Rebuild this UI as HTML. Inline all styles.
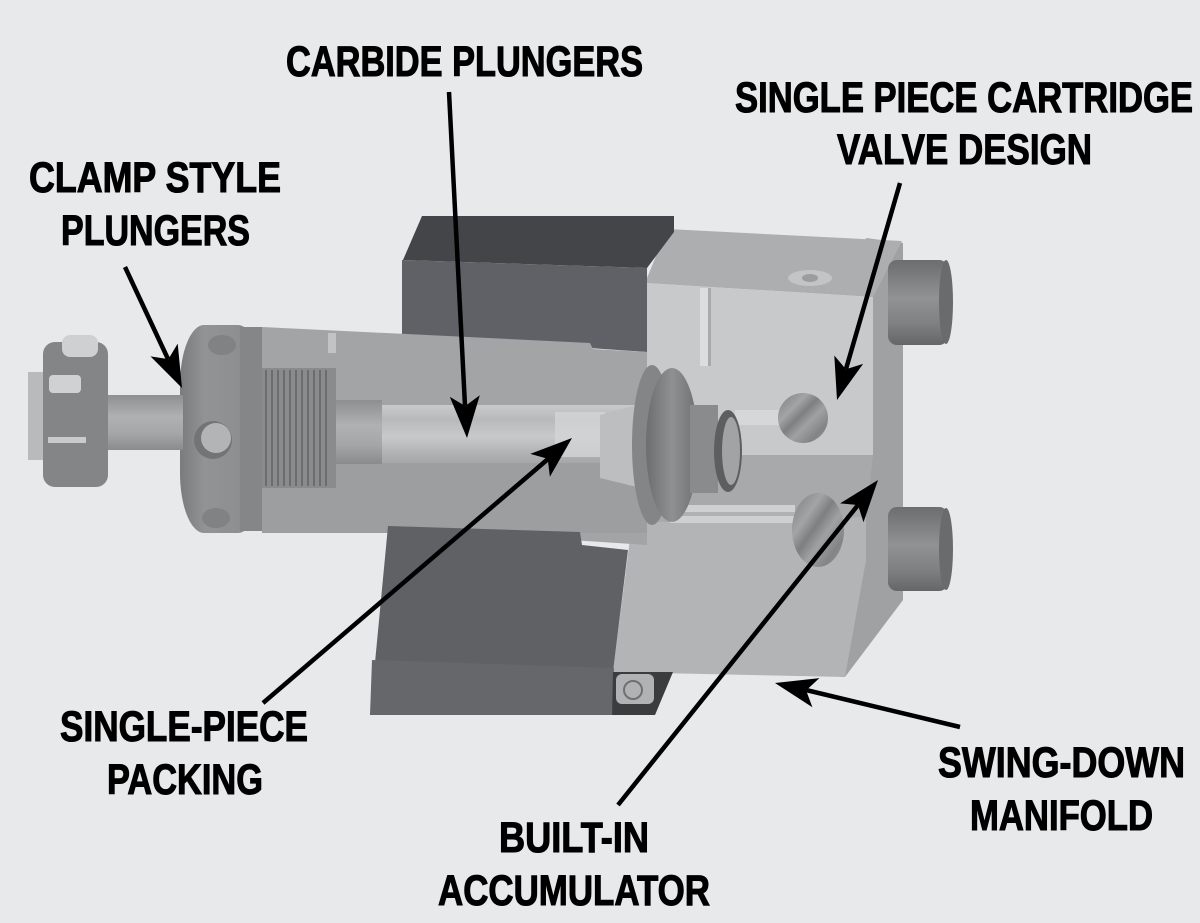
<!DOCTYPE html>
<html><head><meta charset="utf-8"><style>
html,body{margin:0;padding:0;background:#e8e9eb;}
svg{display:block;}
text{font-family:"Liberation Sans",Arial,sans-serif;font-weight:bold;font-size:43px;fill:#000;stroke:#000;stroke-width:1.1px;}
</style></head><body>
<svg width="1200" height="923" viewBox="0 0 1200 923" xmlns="http://www.w3.org/2000/svg">
<defs>
<linearGradient id="chan" x1="0" y1="0" x2="0" y2="1">
<stop offset="0" stop-color="#c9cacc"/><stop offset="0.25" stop-color="#b8b9bb"/><stop offset="0.55" stop-color="#c8c9cb"/><stop offset="0.8" stop-color="#b3b4b6"/><stop offset="1" stop-color="#a6a7a9"/>
</linearGradient>
<linearGradient id="shaft" x1="0" y1="0" x2="0" y2="1">
<stop offset="0" stop-color="#8e8f91"/><stop offset="0.4" stop-color="#b0b1b3"/><stop offset="0.7" stop-color="#a5a6a8"/><stop offset="1" stop-color="#8a8b8d"/>
</linearGradient>
<linearGradient id="flange" x1="0" y1="0" x2="1" y2="0">
<stop offset="0" stop-color="#7a7b7d"/><stop offset="0.3" stop-color="#929395"/><stop offset="0.7" stop-color="#8e8f91"/><stop offset="1" stop-color="#7e7f81"/>
</linearGradient>
<linearGradient id="bolt" x1="0" y1="0" x2="0" y2="1">
<stop offset="0" stop-color="#6c6d6f"/><stop offset="0.45" stop-color="#919294"/><stop offset="0.75" stop-color="#7f8082"/><stop offset="1" stop-color="#656668"/>
</linearGradient>
<linearGradient id="disc" x1="0" y1="0" x2="1" y2="0">
<stop offset="0" stop-color="#6d6e70"/><stop offset="0.5" stop-color="#8f9092"/><stop offset="1" stop-color="#6f7072"/>
</linearGradient>
<linearGradient id="hole" x1="0" y1="0" x2="1" y2="1">
<stop offset="0" stop-color="#7c7d7f"/><stop offset="0.3" stop-color="#a3a4a6"/><stop offset="0.45" stop-color="#7e7f81"/><stop offset="0.6" stop-color="#a0a1a3"/><stop offset="0.8" stop-color="#838486"/><stop offset="1" stop-color="#96979a"/>
</linearGradient>
</defs>
<rect width="1200" height="923" fill="#e8e9eb"/>

<!-- manifold side face -->
<polygon points="866,238 903,243 903,600 845,677 840,677 866,560" fill="#a0a1a3"/>
<!-- manifold top face -->
<polygon points="667,229 902,241 873,297 645,283" fill="#adaeb0"/>
<ellipse cx="810" cy="278" rx="22" ry="8" fill="#c3c4c6"/>
<ellipse cx="810" cy="278" rx="8" ry="4" fill="#9c9d9f"/>
<!-- manifold upper front face -->
<polygon points="645,283 873,297 873,455 645,455" fill="#c8c9cb"/>
<rect x="700" y="288" width="10" height="78" fill="#dcdddf"/>
<rect x="708" y="288" width="3" height="78" fill="#a9aaac"/>
<!-- middle band -->
<polygon points="640,455 873,455 866,518 632,523" fill="#a8a9ab"/>
<!-- lower manifold face -->
<polygon points="632,523 866,517 866,560 845,677 613,672" fill="#b3b4b6"/>
<rect x="670" y="505" width="125" height="18" fill="#cfd0d2"/>
<rect x="670" y="512" width="125" height="4" fill="#b0b1b3"/>
<rect x="735" y="410" width="60" height="15" fill="#d6d7d9"/>

<!-- holes -->
<circle cx="803" cy="418" r="25" fill="url(#hole)"/>
<ellipse cx="818" cy="530" rx="26" ry="37" fill="url(#hole)"/>

<!-- dark block top -->
<polygon points="403,260 422,216 674,216 674,232 647,268" fill="#444548"/>
<!-- dark block front -->
<polygon points="402,260 647,268 647,352 402,335" fill="#606166"/>

<!-- main body -->
<polygon points="262,327 590,343 593,349 647,352 647,545 388,528 262,533" fill="#a3a4a6"/>
<rect x="262" y="463" width="385" height="70" fill="#9d9ea0"/>
<rect x="328" y="333" width="8" height="20" fill="#c2c3c5"/>
<!-- plunger channel -->
<rect x="335" y="405" width="300" height="58" fill="url(#chan)"/>
<rect x="335" y="400" width="47" height="64" fill="url(#shaft)"/>
<rect x="555" y="412" width="50" height="45" fill="#d3d4d6" opacity="0.8"/>

<!-- lower dark block -->
<polygon points="388,526 580,532 582,545 628,550 613,672 612,715 370,715" fill="#606165"/>
<polygon points="372,660 614,668 612,715 370,715" fill="#66676b"/>
<polygon points="613,672 673,672 655,715 612,715" fill="#3b3c3e"/>
<rect x="616" y="674" width="38" height="30" rx="6" fill="#b1b2b4"/>
<circle cx="633" cy="690" r="9" fill="none" stroke="#6f7072" stroke-width="2"/>

<!-- valve assembly -->
<polygon points="600,415 637,405 637,487 600,478" fill="#bdbec0"/>
<ellipse cx="652" cy="445" rx="20" ry="80" fill="#848587"/>
<ellipse cx="672" cy="445" rx="26" ry="77" fill="url(#disc)"/>
<rect x="690" y="405" width="28" height="88" fill="#8a8b8d"/>
<ellipse cx="728" cy="451" rx="14" ry="41" fill="#5d5e60"/>
<ellipse cx="731" cy="451" rx="9" ry="34" fill="#a2a3a5"/>

<!-- threads -->
<rect x="250" y="368" width="86" height="120" fill="#8a8b8d"/>
<g stroke="#6c6d6f" stroke-width="2">
<line x1="254" y1="370" x2="254" y2="486"/><line x1="260" y1="370" x2="260" y2="486"/>
<line x1="266" y1="370" x2="266" y2="486"/><line x1="272" y1="370" x2="272" y2="486"/>
<line x1="278" y1="370" x2="278" y2="486"/><line x1="284" y1="370" x2="284" y2="486"/>
<line x1="290" y1="370" x2="290" y2="486"/><line x1="296" y1="370" x2="296" y2="486"/>
<line x1="302" y1="370" x2="302" y2="486"/><line x1="308" y1="370" x2="308" y2="486"/>
<line x1="314" y1="370" x2="314" y2="486"/><line x1="320" y1="370" x2="320" y2="486"/>
<line x1="326" y1="370" x2="326" y2="486"/>
</g>
<!-- flange -->
<rect x="180" y="325" width="82" height="208" rx="24" ry="60" fill="url(#flange)"/>
<rect x="240" y="327" width="22" height="204" fill="#858688"/>
<ellipse cx="222" cy="345" rx="14" ry="10" fill="#818284"/>
<ellipse cx="216" cy="518" rx="14" ry="10" fill="#818284"/>
<circle cx="213" cy="440" r="19" fill="#737476"/>
<circle cx="216" cy="438" r="15" fill="#b3b4b6"/>

<!-- shaft -->
<rect x="95" y="395" width="88" height="55" fill="url(#shaft)"/>
<!-- clamp -->
<rect x="28" y="372" width="20" height="88" fill="#b9babc"/>
<rect x="43" y="342" width="65" height="145" rx="12" fill="#848587"/>
<rect x="62" y="335" width="36" height="22" rx="8" fill="#cfd0d2"/>
<rect x="49" y="375" width="32" height="18" rx="4" fill="#d0d1d3"/>
<rect x="48" y="437" width="38" height="6" fill="#c9cacc"/>

<!-- bolts -->
<rect x="888" y="260" width="60" height="85" rx="9" fill="url(#bolt)"/>
<ellipse cx="946" cy="302" rx="7" ry="42" fill="#6a6b6d"/>
<rect x="888" y="507" width="60" height="84" rx="9" fill="url(#bolt)"/>
<ellipse cx="946" cy="549" rx="7" ry="41" fill="#6a6b6d"/>

<!-- arrows -->
<g stroke="#000" stroke-width="4.5" fill="none" stroke-linecap="butt">
<line x1="125" y1="267" x2="168" y2="359"/>
<line x1="449" y1="92" x2="465" y2="406"/>
<line x1="263" y1="703" x2="548" y2="459"/>
<line x1="900" y1="183" x2="846" y2="369"/>
<line x1="618" y1="805" x2="858" y2="505"/>
<line x1="960" y1="727" x2="806" y2="690"/>
</g>
<g fill="#000">
<polygon points="182,388 150.5,356.4 168.4,359.1 177.7,343.6"/>
<polygon points="467,438 449.8,396.9 465.3,406 479.8,395.3"/>
<polygon points="572,438 549.9,476.7 547.7,458.8 530.3,453.9"/>
<polygon points="837,400 834.3,355.5 845.9,369.3 863.1,363.9"/>
<polygon points="878,480 863.5,522.2 858,505 840.1,503.4"/>
<polygon points="775,683 819.4,678.1 806.1,690.4 812.4,707.3"/>
</g>

<!-- labels -->
<text x="286" y="76" textLength="357" lengthAdjust="spacingAndGlyphs">CARBIDE PLUNGERS</text>
<text x="29" y="192" textLength="252" lengthAdjust="spacingAndGlyphs">CLAMP STYLE</text>
<text x="61" y="245" textLength="189" lengthAdjust="spacingAndGlyphs">PLUNGERS</text>
<text x="735" y="112" textLength="458" lengthAdjust="spacingAndGlyphs">SINGLE PIECE CARTRIDGE</text>
<text x="837" y="164" textLength="255" lengthAdjust="spacingAndGlyphs">VALVE DESIGN</text>
<text x="60" y="741" textLength="248" lengthAdjust="spacingAndGlyphs">SINGLE-PIECE</text>
<text x="107" y="794" textLength="156" lengthAdjust="spacingAndGlyphs">PACKING</text>
<text x="499" y="852" textLength="150" lengthAdjust="spacingAndGlyphs">BUILT-IN</text>
<text x="438" y="905" textLength="272" lengthAdjust="spacingAndGlyphs">ACCUMULATOR</text>
<text x="938" y="777" textLength="247" lengthAdjust="spacingAndGlyphs">SWING-DOWN</text>
<text x="970" y="830" textLength="183" lengthAdjust="spacingAndGlyphs">MANIFOLD</text>
</svg>
</body></html>
